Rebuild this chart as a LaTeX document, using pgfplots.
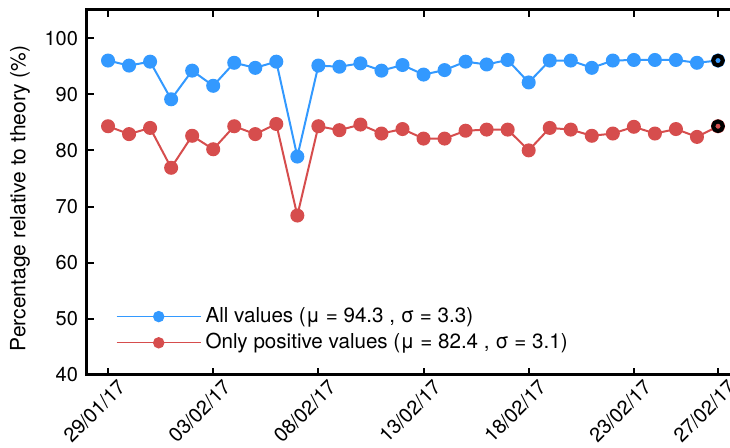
\documentclass[border=0pt]{standalone}
\usepackage{pgfplots}
\pgfplotsset{compat=1.18}
\usepackage{fontspec}
\setmainfont{TeX Gyre Heros}
\definecolor{cblue}{RGB}{51,153,255}
\definecolor{cred}{RGB}{214,77,77}
\pgfplotstableread{
x blue red
0 96.0 84.3
1 95.1 82.9
2 95.8 84.0
3 89.1 76.9
4 94.2 82.6
5 91.5 80.2
6 95.6 84.3
7 94.7 82.9
8 95.8 84.7
9 78.9 68.4
10 95.1 84.3
11 94.9 83.6
12 95.5 84.6
13 94.2 83.0
14 95.2 83.8
15 93.5 82.1
16 94.3 82.1
17 95.8 83.5
18 95.3 83.7
19 96.1 83.7
20 92.1 80.0
21 96.0 84.0
22 96.0 83.7
23 94.7 82.6
24 96.0 83.0
25 96.1 84.2
26 96.1 83.0
27 96.1 83.8
28 95.6 82.4
29 96.0 84.3
}\data
\begin{document}
\fontsize{10}{12}\selectfont
\begin{tikzpicture}
\begin{axis}[
  name=ax,
  scale only axis, width=321.5pt, height=182.5pt,
  xmin=-1, xmax=29.57, ymin=40, ymax=105,
  axis line style={draw=none},
  clip=false,
  tick align=inside,
  xtick pos=both, ytick pos=left,
  major tick length=3.5pt,
  tick style={black, line width=1pt},
  xtick={0,5,10,15,20,25,29},
  xticklabels={29/01/17,03/02/17,08/02/17,13/02/17,18/02/17,23/02/17,27/02/17},
  ytick={40,50,...,100},
  tick label style={font=\fontsize{10}{12}\selectfont},
  x tick label style={rotate=45, anchor=north east, inner sep=1pt, yshift=-3pt, xshift=3pt},
  y tick label style={xshift=-1pt},
  /pgf/number format/assume math mode=true,
  ylabel={Percentage relative to theory (\%)},
  ylabel style={font=\fontsize{10.5}{12.5}\selectfont, at={(axis description cs:-0.104,0.484)}, anchor=center},
  legend style={draw=none, fill=none, at={(0.035,0.04)}, anchor=south west,
    row sep=0pt, font=\fontsize{10.3}{12}\selectfont},
  legend cell align=left,
  legend image code/.code={
    \draw[line width=0.7pt, mark repeat=2,mark phase=2, mark size=2.5pt] plot coordinates {(0cm,0cm) (0.74cm,0cm) (1.48cm,0cm)};
  },
]
\draw[line width=1.5pt] (rel axis cs:1,1) -- (rel axis cs:0,1) -- (rel axis cs:0,0) -- (rel axis cs:1,0);
\addplot[color=cblue, line width=1pt, mark=*, mark size=3pt, mark options={solid, fill=cblue, draw=cblue}] table[x=x, y=blue] {\data};
\addlegendentry{All values (μ = 94.3 , σ = 3.3)}
\addplot[color=cred, line width=1pt, mark=*, mark size=3pt, mark options={solid, fill=cred, draw=cred}] table[x=x, y=red] {\data};
\addlegendentry{Only positive values (μ = 82.4 , σ = 3.1)}
\addplot[only marks, mark=*, mark size=2.4pt, line width=2pt, draw=black, fill=cblue, forget plot] coordinates {(29,96.0)};
\addplot[only marks, mark=*, mark size=2.4pt, line width=2pt, draw=black, fill=cred, forget plot] coordinates {(29,84.3)};
\end{axis}
\pgfresetboundingbox
\path ([xshift=-43.5pt,yshift=-36.5pt]ax.south west) rectangle ([yshift=5pt]ax.north east);
\end{tikzpicture}
\end{document}
